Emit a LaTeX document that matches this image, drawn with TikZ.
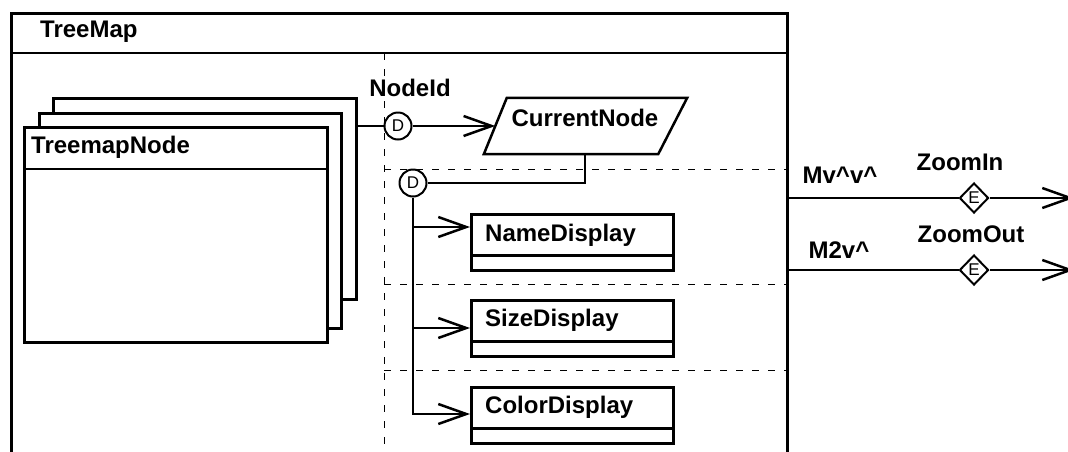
\documentclass[tikz,border=0pt]{standalone}
\usepackage{fontspec}
\setmainfont{Liberation Sans}
\usetikzlibrary{arrows.meta,shapes.geometric,calc}

\begin{document}
\begin{tikzpicture}[x=1pt,y=-1pt,
  lbl/.style={font=\fontsize{24}{28}\selectfont\bfseries, inner sep=0pt},
  box/.style={draw, line width=2.5pt, fill=white, inner sep=0pt},
  conn/.style={line width=2.5pt},
  arr/.style={conn, -{Straight Barb[length=28pt,width=20pt]}},
  part/.style={dash pattern=on 7pt off 9pt, line width=0.8pt},
  jct/.style={circle, draw, line width=2pt, fill=white, minimum size=27pt,
    inner sep=0pt, font=\fontsize{17}{20}\selectfont},
  evt/.style={diamond, draw, line width=2pt, fill=white, minimum width=29pt,
    minimum height=30pt, inner sep=0pt, font=\fontsize{17}{20}\selectfont},
  classbox/.style={box, anchor=north west, minimum width=202pt, minimum height=56pt},
]
\useasboundingbox (0,0) rectangle (1068,451);
\clip (0,0) rectangle (1068,451);

% outer TreeMap frame with its title compartment
\node[box, anchor=north west, minimum width=776pt, minimum height=480pt] (frame) at (10,12) {};
\draw[conn] ($(frame.north west)+(0,41)$) -- ($(frame.north east)+(0,41)$);
\node[lbl, anchor=west] (title) at (40,32) {TreeMap};

% dashed partition lines
\draw[part] (384,53) -- (384,460);
\draw[part] (384,169) -- (frame.east |- 0,169);
\draw[part] (384,284) -- (frame.east |- 0,284);
\draw[part] (384,370) -- (frame.east |- 0,370);

% stacked TreemapNode boxes
\node[box, anchor=north west, minimum width=303pt, minimum height=201pt] (tn3) at (52,97) {};
\node[box, anchor=north west, minimum width=302pt, minimum height=215pt] (tn2) at (38,112) {};
\node[box, anchor=north west, minimum width=303pt, minimum height=215pt] (tn1) at (23,126) {};
\draw[conn] ($(tn1.north west)+(0,43)$) -- ($(tn1.north east)+(0,43)$);
\node[lbl, anchor=west] (tnlabel) at (31,147) {TreemapNode};

% NodeId data flow into the CurrentNode parallelogram
\node[jct] (d1) at (398,126) {D};
\node[lbl] (nid) at (410,88) {NodeId};
\node[inner sep=0pt, minimum width=203pt, minimum height=56pt] (cur) at (585.5,126) {};
\draw[line width=2.5pt, fill=white, line join=miter]
  (cur.south west) -- ($(cur.north west)+(23,0)$) -- (cur.north east)
  -- ($(cur.south east)+(-29,0)$) -- cycle;
\coordinate (curin) at ($(cur.west)+(11.5,0)$);
\coordinate (curout) at ($(cur.south)+(-0.5,0)$);
\node[lbl] (curtxt) at (585,118) {CurrentNode};
\draw[conn] (tn3.east |- d1.west) -- (d1.west);
\draw[arr] (d1) -- (curin);

% CurrentNode feeding the display boxes
\node[jct] (d2) at (413,183) {D};
\draw[conn] (curout) |- (d2);

\node[classbox] (nd) at (470,213) {};
\draw[conn] ($(nd.north west)+(0,42.5)$) -- ($(nd.north east)+(0,42.5)$);
\node[lbl, anchor=west] (ndtxt) at (485,235) {NameDisplay};

\node[classbox] (sd) at (470,299) {};
\draw[conn] ($(sd.north west)+(0,42.5)$) -- ($(sd.north east)+(0,42.5)$);
\node[lbl, anchor=west] (sdtxt) at (485,320) {SizeDisplay};

\node[classbox] (cd) at (470,386) {};
\draw[conn] ($(cd.north west)+(0,42.5)$) -- ($(cd.north east)+(0,42.5)$);
\node[lbl, anchor=west] (cdtxt) at (485,407) {ColorDisplay};

\coordinate (ndin) at ($(nd.north west)+(0,14)$);
\coordinate (sdin) at ($(sd.north west)+(0,29)$);
\coordinate (cdin) at ($(cd.north west)+(0,28)$);
\draw[arr] (d2.south) |- (cdin);
\draw[arr] (d2 |- ndin) -- (ndin);
\draw[arr] (d2 |- sdin) -- (sdin);

% outgoing events
\node[evt] (e1) at (974,198) {E};
\node[evt] (e2) at (974,270) {E};
\coordinate (e1out) at (1074,198);
\coordinate (e2out) at (1074,270);
\draw[conn] (frame.east |- e1) -- (e1);
\draw[arr] (e1) -- (e1out);
\draw[conn] (frame.east |- e2) -- (e2);
\draw[arr] (e2) -- (e2out);
\node[lbl] (k1) at (840,175) {Mv\textasciicircum v\textasciicircum};
\node[lbl] (zin) at (960,162) {ZoomIn};
\node[lbl] (k2) at (839,250) {M2v\textasciicircum};
\node[lbl] (zout) at (971,234) {ZoomOut};
\end{tikzpicture}
\end{document}
